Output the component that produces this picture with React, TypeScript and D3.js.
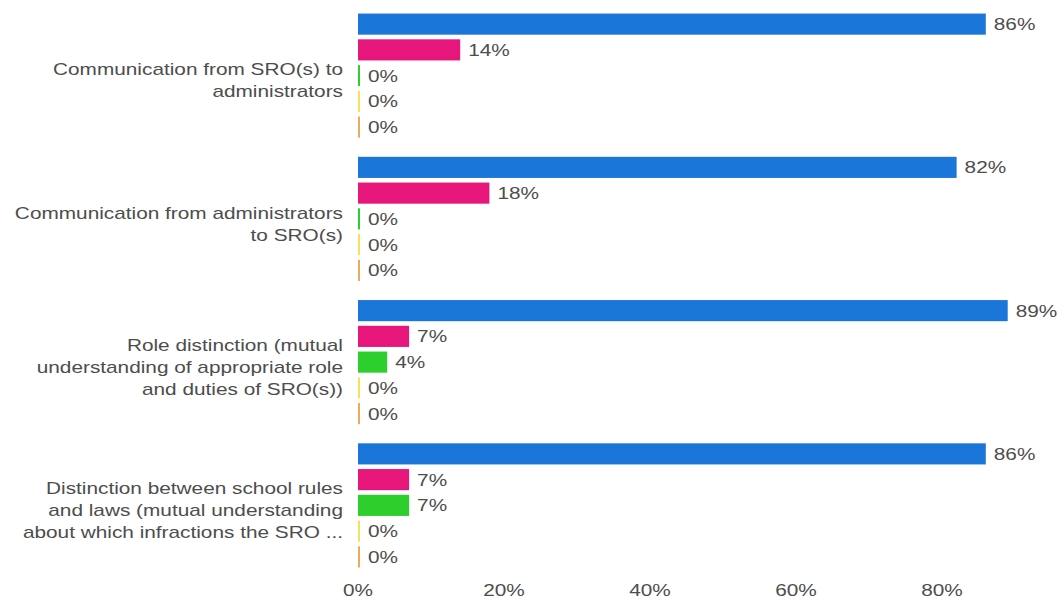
import { useEffect, useRef } from "react";
import * as d3 from "d3";

const categories = [
  "Communication from SRO(s) to administrators",
  "Communication from administrators to SRO(s)",
  "Role distinction (mutual understanding of appropriate role and duties of SRO(s))",
  "Distinction between school rules and laws (mutual understanding about which infractions the SRO ...",
];

// wrapped the way the original chart wraps them
const categoryLines = [
  ["Communication from SRO(s) to", "administrators"],
  ["Communication from administrators", "to SRO(s)"],
  ["Role distinction (mutual", "understanding of appropriate role", "and duties of SRO(s))"],
  ["Distinction between school rules", "and laws (mutual understanding", "about which infractions the SRO ..."],
];

const seriesNames = ["Response 1", "Response 2", "Response 3", "Response 4", "Response 5"];
const seriesColors = ["#1b76d9", "#e6167b", "#2ccf2c", "#f5e15a", "#f0aa5c"];

const response1 = [86, 82, 89, 86];
const response2 = [14, 18, 7, 7];
const response3 = [0, 0, 4, 7];
const response4 = [0, 0, 0, 0];
const response5 = [0, 0, 0, 0];
const seriesValues = [response1, response2, response3, response4, response5];

const xTicks = [0, 20, 40, 60, 80];

const width = 1059;
const height = 602;
const textColor = "#4d4d4d";
const stretch = 1.3; // the reference glyphs are wide

export default function App() {
  const svgRef = useRef<SVGSVGElement>(null);

  useEffect(() => {
    if (!svgRef.current) return;
    const svg = d3.select(svgRef.current);
    svg.selectAll("*").remove();

    const x = d3.scaleLinear().domain([0, 100]).range([358, 1088]);

    const y0 = d3.scaleBand<string>().domain(categories).range([4, 577]).padding(0);

    const innerStep = 25.75;
    const y1 = d3
      .scaleBand<string>()
      .domain(seriesNames)
      .range([0, innerStep * seriesNames.length])
      .paddingInner(0.18)
      .paddingOuter(0.09);
    const innerOffset = (y0.bandwidth() - innerStep * seriesNames.length) / 2;

    svg.append("rect").attr("width", width).attr("height", height).attr("fill", "#fff");

    const addText = (
      parent: d3.Selection<any, any, any, any>,
      tx: number,
      ty: number,
      txt: string,
      anchor: string
    ) => {
      parent
        .append("text")
        .attr("transform", `translate(${tx},${ty}) scale(${stretch},1)`)
        .attr("text-anchor", anchor)
        .attr("font-family", "Liberation Sans, Arial, sans-serif")
        .attr("font-size", 16)
        .attr("fill", textColor)
        .text(txt);
    };

    categories.forEach((cat, ci) => {
      const g = svg.append("g").attr("transform", `translate(0,${(y0(cat) ?? 0) + innerOffset})`);

      seriesNames.forEach((name, si) => {
        const v = seriesValues[si][ci];
        const by = y1(name) ?? 0;
        const w = Math.max(x(v) - x(0), 2);
        g.append("rect")
          .attr("x", x(0))
          .attr("y", by)
          .attr("width", w)
          .attr("height", y1.bandwidth())
          .attr("fill", seriesColors[si]);
        addText(g, x(0) + w + 8, by + y1.bandwidth() / 2 + 6, `${v}%`, "start");
      });

      // category label, right aligned, centred on the group
      const lines = categoryLines[ci];
      const center = (y0(cat) ?? 0) + y0.bandwidth() / 2 + 5;
      lines.forEach((line, li) => {
        const ly = center + (li - (lines.length - 1) / 2) * 22 + 5.7;
        addText(svg, 343, ly, line, "end");
      });
    });

    xTicks.forEach((t) => {
      addText(svg, x(t), 596, `${t}%`, "middle");
    });
  }, []);

  return (
    <div style={{ position: "absolute", left: 0, top: 0, width, height }}>
      <svg ref={svgRef} width={width} height={height} style={{ display: "block" }} />
    </div>
  );
}
